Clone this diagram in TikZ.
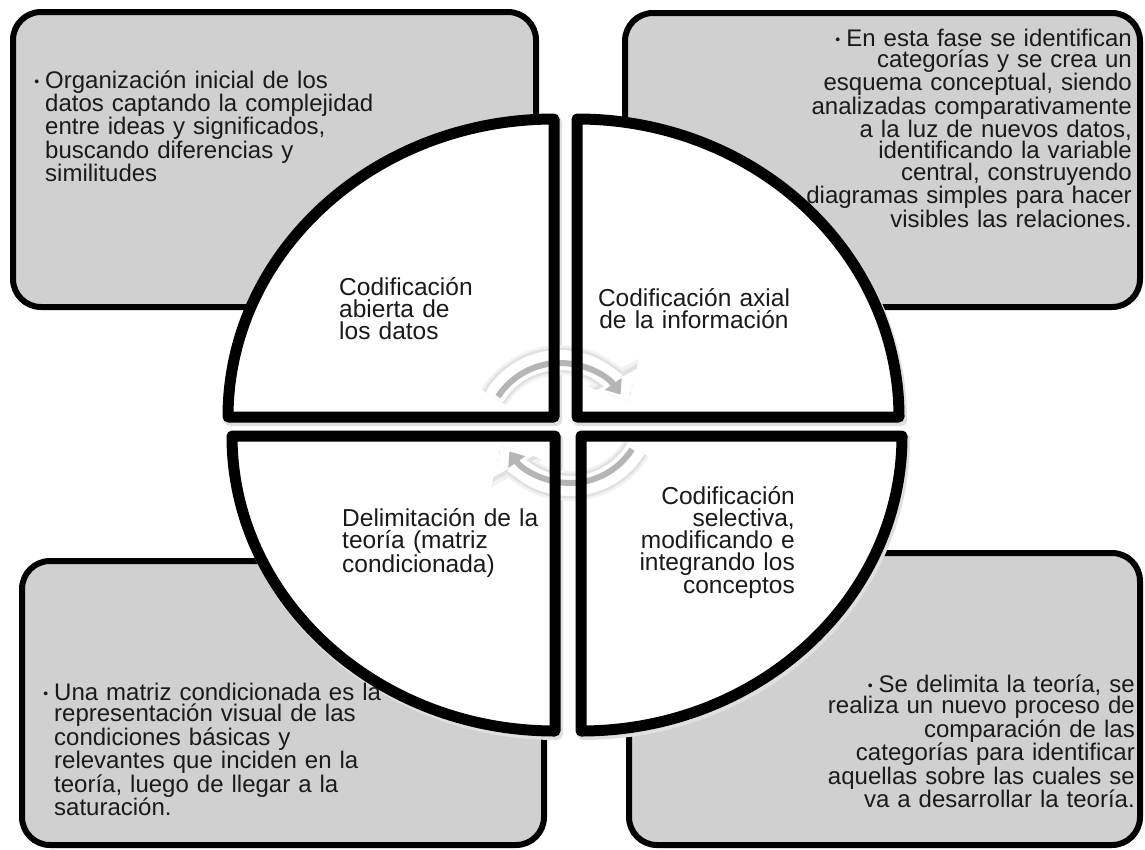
\documentclass[tikz,border=0pt]{standalone}
\usepackage{fontspec}
\setmainfont{Liberation Sans}
\usetikzlibrary{arrows.meta}
\definecolor{boxgray}{HTML}{D0D0D0}
\definecolor{txt}{HTML}{1A1A1A}
\newcommand{\bul}{\raisebox{1.5pt}{\fontsize{14}{14}\selectfont •}}
\begin{document}
\begin{tikzpicture}[x=1pt,y=-1pt,
  infobox/.style={draw=black, line width=6pt, fill=boxgray, rounded corners=28pt, inner sep=0pt},
  qline/.style={draw=black, line width=11pt, line join=round},
  qshadow/.style={draw=gray!25, line width=12pt, line join=round},
  btext/.style={inner sep=0pt, text=txt, font=\fontsize{24}{21.4}\selectfont, text width=#1},
  qtext/.style={inner sep=0pt, text=txt, font=\fontsize{24.5}{22.3}\selectfont, text width=#1},
  cychaloA/.style={draw=gray!10, line width=30pt, -{Triangle[width=56pt,length=32pt]}},
  cychaloB/.style={draw=gray!24, line width=25pt, -{Triangle[width=50pt,length=28pt]}},
  cycwhite/.style={draw=white, line width=20pt, -{Triangle[width=44pt,length=24pt]}},
  cycgray/.style={draw=gray!58, line width=6pt, -{Triangle[width=20pt,length=13pt]}}
]
\fill[white] (0,0) rectangle (1145,849);
\useasboundingbox (0,0) rectangle (1145,849);

% grey boxes
\node[infobox, minimum width=523pt, minimum height=295pt] (b1) at (274.5,159.5) {};
\node[infobox, minimum width=515pt, minimum height=294pt] (b2) at (882.5,160) {};
\node[infobox, minimum width=522pt, minimum height=284pt] (b3) at (283,703) {};
\node[infobox, minimum width=511pt, minimum height=292pt] (b4) at (884.5,699) {};

% quarter shadows
\begin{scope}[shift={(2,3)}]
\path[qshadow] (554,417) -- (554,119) arc[start angle=270,end angle=180,x radius=326,y radius=298] -- cycle;
\path[qshadow] (577,417) -- (577,119) arc[start angle=270,end angle=360,x radius=322,y radius=298] -- cycle;
\path[qshadow] (555,436) -- (232,436) arc[start angle=180,end angle=90,x radius=323,y radius=295] -- cycle;
\path[qshadow] (581,436) -- (581,731) arc[start angle=90,end angle=0,x radius=321,y radius=295] -- cycle;
\end{scope}

% quarter fills
\fill[white] (554,417) -- (554,119) arc[start angle=270,end angle=180,x radius=326,y radius=298] -- cycle;
\fill[white] (577,417) -- (577,119) arc[start angle=270,end angle=360,x radius=322,y radius=298] -- cycle;
\fill[white] (555,436) -- (232,436) arc[start angle=180,end angle=90,x radius=323,y radius=295] -- cycle;
\fill[white] (581,436) -- (581,731) arc[start angle=90,end angle=0,x radius=321,y radius=295] -- cycle;

% circular arrows
\coordinate (c1) at (560,437);
\coordinate (c2) at (570,409);
\begin{scope}[shift={(1,2)}]
\draw[cychaloA] ([shift={(-149:77)}]c1) arc[start angle=-149,end angle=-28,radius=77];
\draw[cychaloA] ([shift={(31:77)}]c2) arc[start angle=31,end angle=152,radius=77];
\draw[cychaloB] ([shift={(-149:77)}]c1) arc[start angle=-149,end angle=-28,radius=77];
\draw[cychaloB] ([shift={(31:77)}]c2) arc[start angle=31,end angle=152,radius=77];
\end{scope}
\draw[cycwhite] ([shift={(-149:77)}]c1) arc[start angle=-149,end angle=-28,radius=77];
\draw[cycwhite] ([shift={(31:77)}]c2) arc[start angle=31,end angle=152,radius=77];
\draw[cycgray] ([shift={(-147:74)}]c1) arc[start angle=-147,end angle=-35,radius=74];
\draw[cycgray] ([shift={(33:74)}]c2) arc[start angle=33,end angle=145,radius=74];

% quarter strokes
\draw[qline] (554,417) -- (554,119) arc[start angle=270,end angle=180,x radius=326,y radius=298] -- cycle;
\draw[qline] (577,417) -- (577,119) arc[start angle=270,end angle=360,x radius=322,y radius=298] -- cycle;
\draw[qline] (555,436) -- (232,436) arc[start angle=180,end angle=90,x radius=323,y radius=295] -- cycle;
\draw[qline] (581,436) -- (581,731) arc[start angle=90,end angle=0,x radius=321,y radius=295] -- cycle;

% box texts
\node[btext=420pt, align=left, anchor=base west] (t1) at (45,88)
  {\llap{\bul\hspace{6pt}}Organización inicial de los\\datos captando la complejidad\\entre ideas y significados,\\buscando diferencias y\\similitudes};
\node[btext=480pt, align=right, anchor=base east] (t2) at (1132,46)
  {\bul\hspace{6pt}En esta fase se identifican\\categorías y se crea un\\esquema conceptual, siendo\\analizadas comparativamente\\a la luz de nuevos datos,\\identificando la variable\\central, construyendo\\diagramas simples para hacer\\visibles las relaciones.};
\node[btext=420pt, align=left, anchor=base west] (t3) at (54,700)
  {\llap{\bul\hspace{6pt}}Una matriz condicionada es la\\representación visual de las\\condiciones básicas y\\relevantes que inciden en la\\teoría, luego de llegar a la\\saturación.};
\node[btext=480pt, align=right, anchor=base east] (t4) at (1135,692)
  {\bul\hspace{6pt}Se delimita la teoría, se\\realiza un nuevo proceso de\\comparación de las\\categorías para identificar\\aquellas sobre las cuales se\\va a desarrollar la teoría.};

% quarter texts
\node[qtext=220pt, align=left, anchor=base west] (q1) at (339,295)
  {Codificación\\abierta de\\los datos};
\node[qtext=260pt, align=center, anchor=base] (q2) at (694,306)
  {Codificación axial\\de la información};
\node[qtext=230pt, align=left, anchor=base west] (q3) at (342,526)
  {Delimitación de la\\teoría (matriz\\condicionada)};
\node[qtext=220pt, align=right, anchor=base east] (q4) at (795,504)
  {Codificación\\selectiva,\\modificando e\\integrando los\\conceptos};
\end{tikzpicture}
\end{document}
